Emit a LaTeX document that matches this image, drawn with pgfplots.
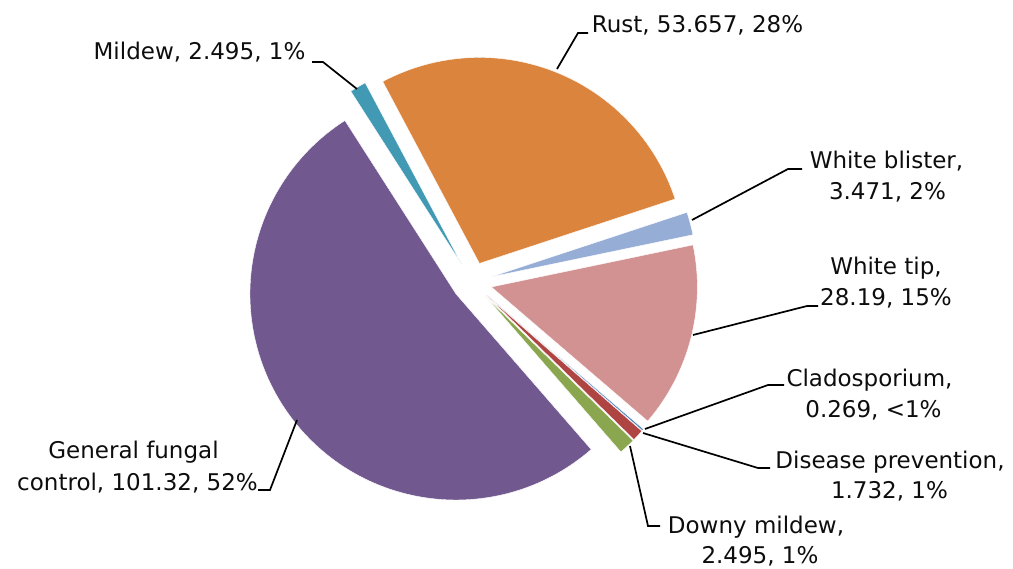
\documentclass[border=0pt]{standalone}
\usepackage{pgfplots}
\pgfplotsset{compat=1.18}
\usepackage{pgfplotstable}
\usepackage{fontspec}
\setmainfont{DejaVu Sans}
\definecolor{cRust}{HTML}{DB843D}
\definecolor{cWB}{HTML}{96ADD6}
\definecolor{cWT}{HTML}{D39292}
\definecolor{cCl}{HTML}{4A7EBB}
\definecolor{cDP}{HTML}{AE4543}
\definecolor{cDM}{HTML}{8AA64F}
\definecolor{cGF}{HTML}{71588F}
\definecolor{cMi}{HTML}{4299B3}
\pgfplotstableread{
name value col
Rust 53.657 cRust
WhiteBlister 3.471 cWB
WhiteTip 28.19 cWT
Cladosporium 0.269 cCl
DiseasePrevention 1.732 cDP
DownyMildew 2.495 cDM
GeneralFungal 101.32 cGF
Mildew 2.495 cMi
}\piedata
\begin{document}
\begin{tikzpicture}
\begin{axis}[x=1pt,y=1pt,xmin=0,xmax=1013,ymin=0,ymax=569,y dir=reverse,
  hide axis,clip=false,disabledatascaling,anchor=south west,at={(0,0)}]
\addplot[draw=none] coordinates {(0,0) (1013,569)};
\pgfplotsextra{
  \xdef\pietotal{0}
  \foreach \i in {0,...,7}{%
    \pgfplotstablegetelem{\i}{value}\of\piedata
    \pgfmathparse{\pietotal+\pgfplotsretval}\xdef\pietotal{\pgfmathresult}}
  \xdef\piecum{0}
  \foreach \i in {0,...,7}{%
    \pgfplotstablegetelem{\i}{value}\of\piedata \let\pv\pgfplotsretval
    \pgfplotstablegetelem{\i}{col}\of\piedata \let\pcol\pgfplotsretval
    \pgfmathsetmacro\aone{118-\piecum/\pietotal*360}
    \pgfmathsetmacro\atwo{118-(\piecum+\pv)/\pietotal*360}
    \pgfmathsetmacro\amid{(\aone+\atwo)/2}
    \fill[fill=\pcol,draw=white,line width=0.4pt] (axis cs:472,282) ++(\amid:20pt)
      -- ++(\aone:206pt) arc[start angle=\aone,end angle=\atwo,radius=206pt] -- cycle;
    \pgfmathparse{\piecum+\pv}\xdef\piecum{\pgfmathresult}}
}
% leader lines
\tikzset{lead/.style={black,line width=1.7pt,line join=miter}}
\draw[lead] (axis cs:557,69) -- (axis cs:578,33) -- (axis cs:588,33);
\draw[lead] (axis cs:357,89) -- (axis cs:323,62) -- (axis cs:312,62);
\draw[lead] (axis cs:692,220) -- (axis cs:788,169) -- (axis cs:802,169);
\draw[lead] (axis cs:693,335) -- (axis cs:807,306) -- (axis cs:818,306);
\draw[lead] (axis cs:645,429) -- (axis cs:768,385) -- (axis cs:784,385);
\draw[lead] (axis cs:643,433) -- (axis cs:758,468) -- (axis cs:770,468);
\draw[lead] (axis cs:630,446) -- (axis cs:648,526) -- (axis cs:660,526);
\draw[lead] (axis cs:297,420) -- (axis cs:270,490) -- (axis cs:258,490);
% labels
\tikzset{lab/.style={anchor=base,inner sep=0pt,text=black!95,font=\fontsize{23}{28}\selectfont}}
\node[lab] at (axis cs:697.5,33) {Rust, 53.657, 28\%};
\node[lab] at (axis cs:199.5,60) {Mildew, 2.495, 1\%};
\node[lab] at (axis cs:886.5,169) {White blister,};
\node[lab] at (axis cs:887.5,200) {3.471, 2\%};
\node[lab] at (axis cs:886,275) {White tip,};
\node[lab] at (axis cs:886,306) {28.19, 15\%};
\node[lab] at (axis cs:869.5,387) {Cladosporium,};
\node[lab] at (axis cs:873.5,418) {0.269, <1\%};
\node[lab] at (axis cs:890,468) {Disease prevention,};
\node[lab] at (axis cs:889.5,498) {1.732, 1\%};
\node[lab] at (axis cs:756,533) {Downy mildew,};
\node[lab] at (axis cs:760,563) {2.495, 1\%};
\node[lab] at (axis cs:133.5,458) {General fungal};
\node[lab] at (axis cs:137.5,490) {control, 101.32, 52\%};
\end{axis}
\pgfresetboundingbox
\useasboundingbox (0,0) rectangle (1013pt,569pt);
\end{tikzpicture}
\end{document}
